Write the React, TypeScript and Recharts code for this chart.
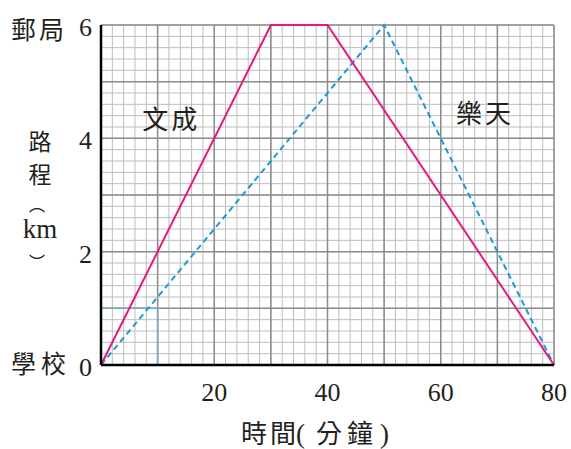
import React from 'react';
import { LineChart, Line, XAxis, YAxis, CartesianGrid, ReferenceLine, ReferenceDot } from 'recharts';

// 文成 and 樂天: time (min) vs distance from school (km)
const wenchengTime = [0, 30, 40, 80];
const wenchengDist = [0, 6, 6, 0];
const letinTime = [0, 50, 80];
const letinDist = [0, 6, 0];

const xTickLabels = [20, 40, 60, 80];
const yTickLabels = [0, 2, 4, 6];
const xMajor = [10, 20, 30, 40, 50, 60, 70, 80];
const yMajor = [1, 2, 3, 4, 5, 6];
const xMinor = Array.from({ length: 41 }, (_, i) => i * 2);
const yMinor = Array.from({ length: 31 }, (_, i) => Math.round(i * 2) / 10);

const guideTime = 10;
const guideDist = 1;

const wenchengData = wenchengTime.map((t, i) => ({ t, d: wenchengDist[i] }));
const letinData = letinTime.map((t, i) => ({ t, d: letinDist[i] }));

const SERIF = "'Liberation Serif', Tinos, 'DejaVu Serif', serif";
const CJK = "'Noto Sans CJK TC', 'Noto Sans CJK SC', sans-serif";
const INK = '#231f20';
const serifStyle = { fontFamily: SERIF };
const cjkStyle = { fontFamily: CJK };

const renderXTick = (props: any) => {
  const { x, y, payload } = props;
  if (!xTickLabels.includes(payload.value)) return <g />;
  return (
    <text x={x} y={y + 28} textAnchor="middle" style={serifStyle} fontSize={26} fill={INK}>
      {payload.value}
    </text>
  );
};

const renderYTick = (props: any) => {
  const { y, payload } = props;
  const v = payload.value;
  if (!yTickLabels.some((t) => Math.abs(t - v) < 1e-6)) return <g />;
  const rounded = Math.round(v);
  return (
    <g>
      <text x={92} y={y + 11} textAnchor="end" style={serifStyle} fontSize={26} fill={INK}>
        {rounded}
      </text>
      {rounded === 6 && (
        <text x={11} y={y + 14} style={cjkStyle} fontSize={25} fill={INK} letterSpacing={3}>
          郵局
        </text>
      )}
      {rounded === 0 && (
        <text x={11} y={y + 8} style={cjkStyle} fontSize={25} fill={INK} letterSpacing={5}>
          學校
        </text>
      )}
    </g>
  );
};

const renderYLabel = () => (
  <g fill={INK}>
    <text x={40} y={150} textAnchor="middle" style={cjkStyle} fontSize={23}>路</text>
    <text x={40} y={183} textAnchor="middle" style={cjkStyle} fontSize={23}>程</text>
    <text x={37} y={211} textAnchor="middle" style={cjkStyle} fontSize={16}>︵</text>
    <text x={40} y={238} textAnchor="middle" style={serifStyle} fontSize={27}>km</text>
    <text x={37} y={268} textAnchor="middle" style={cjkStyle} fontSize={16}>︶</text>
  </g>
);

const renderXLabel = () => (
  <text y={443} style={cjkStyle} fontSize={26} fill={INK}>
    <tspan x={241}>時</tspan>
    <tspan x={270}>間</tspan>
    <tspan x={296} style={serifStyle} fontSize={27}>(</tspan>
    <tspan x={316}>分</tspan>
    <tspan x={347}>鐘</tspan>
    <tspan x={380} style={serifStyle} fontSize={27}>)</tspan>
  </text>
);

export default function App() {
  return (
    <div style={{ position: 'absolute', left: 0, top: 0, background: '#fff' }}>
      <LineChart width={571} height={449} margin={{ top: 25, right: 17, bottom: 44, left: 0 }}>
        <CartesianGrid stroke="#bdbdbd" strokeWidth={1} />
        <XAxis
          type="number"
          dataKey="t"
          domain={[0, 80]}
          ticks={xMinor}
          interval={0}
          tick={renderXTick}
          tickLine={false}
          axisLine={{ stroke: '#000', strokeWidth: 2.5 }}
          height={40}
          label={{ content: renderXLabel }}
        />
        <YAxis
          type="number"
          dataKey="d"
          domain={[0, 6]}
          ticks={yMinor}
          interval={0}
          width={101}
          tick={renderYTick}
          tickLine={false}
          axisLine={{ stroke: '#000', strokeWidth: 2.5 }}
          label={{ content: renderYLabel }}
        />
        {xMajor.map((v) => (
          <ReferenceLine key={'x' + v} x={v} stroke="#8c8c8c" strokeWidth={1.5} />
        ))}
        {yMajor.map((v) => (
          <ReferenceLine key={'y' + v} y={v} stroke="#8c8c8c" strokeWidth={1.5} />
        ))}
        <ReferenceLine segment={[{ x: guideTime, y: 0 }, { x: guideTime, y: guideDist }]} stroke="#7fa6bf" strokeWidth={1.5} />
        <ReferenceLine segment={[{ x: 0, y: guideDist }, { x: guideTime, y: guideDist }]} stroke="#7fa6bf" strokeWidth={1.5} />
        <Line data={letinData} dataKey="d" stroke="#1b9ad6" strokeWidth={2} strokeDasharray="6 4" dot={false} isAnimationActive={false} />
        <Line data={wenchengData} dataKey="d" stroke="#e6197f" strokeWidth={2} dot={false} isAnimationActive={false} />
        <ReferenceDot
          x={12.4}
          y={4.32}
          r={0}
          fill="none"
          stroke="none"
          label={{ value: '文成', position: 'center', fontSize: 26, fill: INK, style: cjkStyle, letterSpacing: 3 }}
        />
        <ReferenceDot
          x={67.8}
          y={4.44}
          r={0}
          fill="none"
          stroke="none"
          label={{ value: '樂天', position: 'center', fontSize: 26, fill: INK, style: cjkStyle, letterSpacing: 3 }}
        />
      </LineChart>
    </div>
  );
}
